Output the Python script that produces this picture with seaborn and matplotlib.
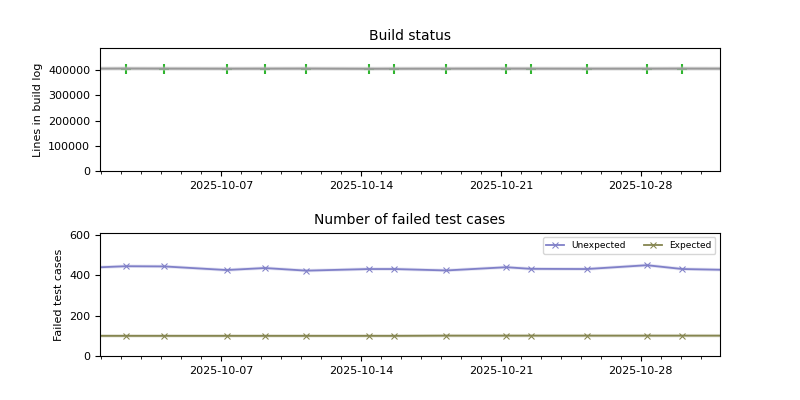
import pandas as pd
import numpy as np
import seaborn as sns
import matplotlib
matplotlib.use("Agg")
import matplotlib.pyplot as plt
import matplotlib.dates as mdates
from matplotlib.ticker import MultipleLocator

# dates of the builds (first and last lie just outside the shown window)
build_dates = pd.to_datetime([
    "2025-09-30 06:00", "2025-10-02 06:15", "2025-10-04 03:50", "2025-10-07 06:50",
    "2025-10-09 04:50", "2025-10-11 06:30", "2025-10-14 09:30", "2025-10-15 16:20",
    "2025-10-18 06:30", "2025-10-21 06:40", "2025-10-22 11:40", "2025-10-25 07:10",
    "2025-10-28 07:20", "2025-10-30 01:55", "2025-11-02 06:00",
])
log_lines = [406000, 406500, 406200, 405900, 406100, 406300, 405600, 405800,
             406000, 406200, 406100, 405900, 406000, 406300, 406000]
unexpected = [438, 446, 445, 427, 437, 424, 432, 432, 425, 441, 433, 432, 451, 432, 426]
expected = [100, 100, 100, 100, 100, 100, 100, 100, 101, 101, 101, 101, 101, 101, 101]

window = (pd.Timestamp("2025-09-30 23:00"), pd.Timestamp("2025-10-31 23:00"))

df = pd.DataFrame({"date": build_dates, "lines": log_lines,
                   "Unexpected": unexpected, "Expected": expected})

plt.rcParams["xtick.labelsize"] = 8
plt.rcParams["ytick.labelsize"] = 8
plt.rcParams["axes.labelsize"] = 8
plt.rcParams["axes.titlesize"] = 10

fig, (ax1, ax2) = plt.subplots(2, 1, figsize=(8, 4), dpi=100)
fig.subplots_adjust(hspace=0.5)

# build log size
ax1.plot(df["date"], df["lines"], color="#cccccc", lw=3, alpha=0.5)
sns.lineplot(data=df, x="date", y="lines", ax=ax1, color="#999999", lw=1.5)
sns.scatterplot(data=df, x="date", y="lines", ax=ax1, marker="+", color="#2fb52f",
                s=50, linewidth=1.5)
ax1.set_ylim(0, max(log_lines) * 1.2)
ax1.yaxis.set_major_locator(MultipleLocator(100000))
ax1.set_title("Build status")
ax1.set_ylabel("Lines in build log")
ax1.set_xlabel("")

# failed tests
colors = {"Unexpected": "#8080c8", "Expected": "#85854f"}
for col in ["Unexpected", "Expected"]:
    ax2.plot(df["date"], df[col], color=colors[col], lw=2.5, alpha=0.2)
    sns.lineplot(data=df, x="date", y=col, ax=ax2, color=colors[col], lw=1.3,
                 marker="x", markersize=5, markeredgecolor=colors[col], label=col)
ax2.set_ylim(0, 612)
ax2.set_title("Number of failed test cases")
ax2.set_ylabel("Failed test cases")
ax2.set_xlabel("")
ax2.legend(loc="upper right", ncol=2, fontsize=6.5)

for ax in (ax1, ax2):
    ax.set_xlim(window)
    ax.xaxis.set_major_locator(mdates.WeekdayLocator(byweekday=mdates.TU))
    ax.xaxis.set_minor_locator(mdates.DayLocator())
    ax.xaxis.set_major_formatter(mdates.DateFormatter("%Y-%m-%d"))

plt.savefig("out.png")
